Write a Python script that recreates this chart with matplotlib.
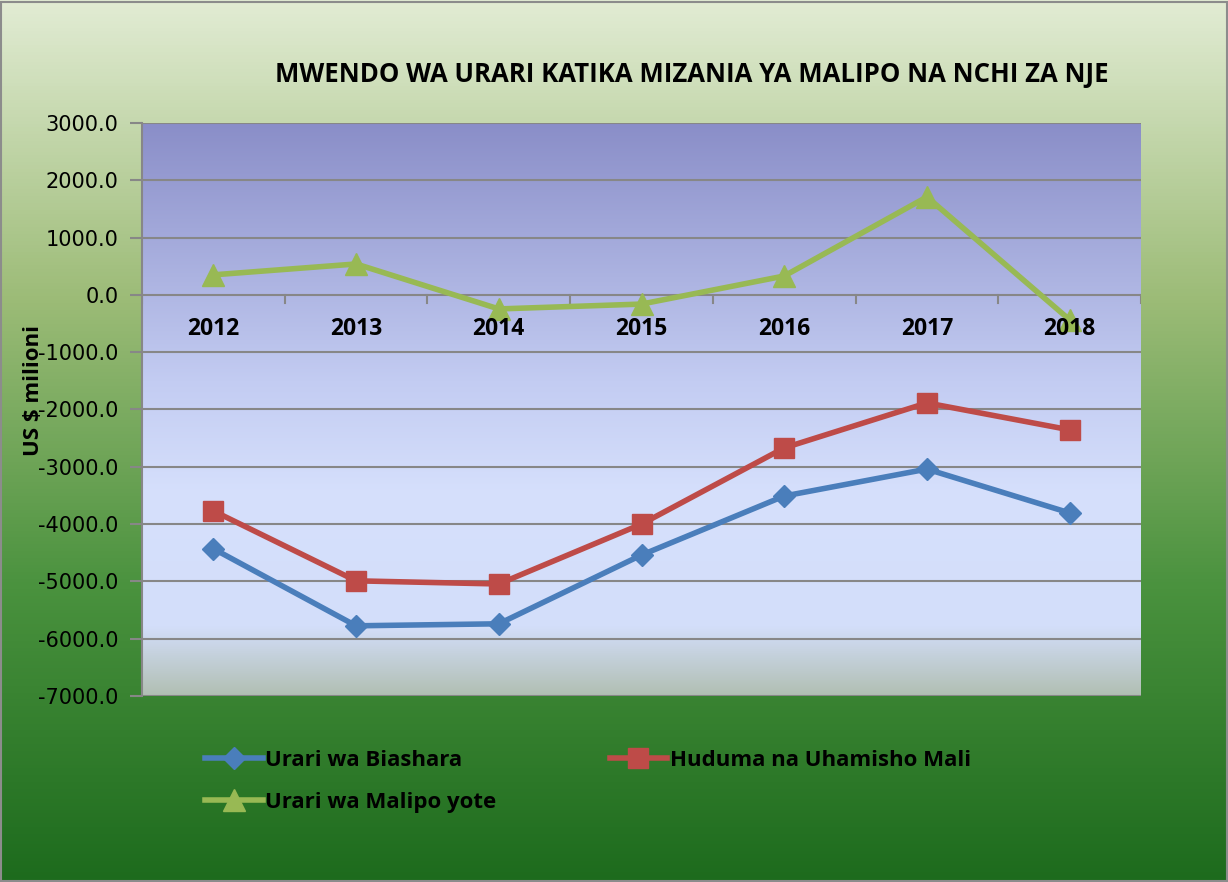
import numpy as np
import matplotlib
matplotlib.use('Agg')
import matplotlib.pyplot as plt
from matplotlib.colors import LinearSegmentedColormap

years = ['2012', '2013', '2014', '2015', '2016', '2017', '2018']
biashara = [-4430, -5775, -5740, -4540, -3510, -3040, -3805]
huduma = [-3770, -4990, -5045, -4000, -2670, -1885, -2355]
malipo = [350, 540, -245, -160, 330, 1710, -435]
yticks = list(range(-7000, 3001, 1000))

FONT = 'Open Sans'

fig = plt.figure(figsize=(12.28, 8.82), dpi=100)

# figure background gradient (light green top -> dark green bottom)
bg = fig.add_axes([0, 0, 1, 1], zorder=-10)
bg_cmap = LinearSegmentedColormap.from_list('bg', ['#e2ecd4', '#9dbc78', '#4a923e', '#1d6b1d'])
bg.imshow(np.linspace(0, 1, 256).reshape(-1, 1), cmap=bg_cmap, aspect='auto', extent=[0, 1, 0, 1])
bg.set_xlim(0, 1)
bg.set_ylim(0, 1)
bg.axis('off')
bg.add_patch(plt.Rectangle((0.001, 0.001), 0.998, 0.997, fill=False, ec='#8c8c8c', lw=1.5))

ax = fig.add_axes([142 / 1228, 1 - 696 / 882, 999 / 1228, 573 / 882])
x = np.arange(len(years))

pa_cmap = LinearSegmentedColormap.from_list(
    'pa', [(0, '#8a8ec8'), (0.45, '#c3ccf2'), (0.65, '#d6e0fc'), (0.88, '#d3defa'), (1, '#b1bfb3')])
ax.imshow(np.linspace(0, 1, 256).reshape(-1, 1), cmap=pa_cmap, aspect='auto',
          extent=[-0.5, len(years) - 0.5, -7000, 3000], origin='upper', zorder=0)

for v in yticks:
    ax.axhline(v, color='#878787', lw=1.5, zorder=1)

l1, = ax.plot(x, biashara, color='#4a7ebb', lw=4, marker='D', ms=11, zorder=3, label='Urari wa Biashara')
l2, = ax.plot(x, huduma, color='#be4b48', lw=4, marker='s', ms=14, zorder=3, label='Huduma na Uhamisho Mali')
l3, = ax.plot(x, malipo, color='#98b954', lw=4, marker='^', ms=16, zorder=3, label='Urari wa Malipo yote')

ax.set_xlim(-0.5, len(years) - 0.5)
ax.set_ylim(-7000, 3000)
ax.set_yticks(yticks)
ax.set_yticklabels([f'{v:.1f}' for v in yticks], fontsize=15, family='DejaVu Sans')
ax.tick_params(axis='y', length=9, width=1.5, color='#878787', pad=8)
ax.tick_params(axis='x', length=0)
ax.set_xticks([])

# category labels and ticks along the zero line
for i, yr in enumerate(years):
    ax.text(i, -600, yr, ha='center', va='center', fontsize=16.5, fontweight='bold',
            family=FONT, zorder=4)
for b in np.arange(-0.5, len(years)):
    ax.plot([b, b], [0, -150], color='#878787', lw=1.5, zorder=1)

for s in ['top', 'right', 'bottom']:
    ax.spines[s].set_visible(False)
ax.spines['left'].set_color('#878787')
ax.spines['left'].set_linewidth(1.5)

ax.set_ylabel('US $ milioni', fontsize=16, fontweight='bold', family=FONT)
ax.yaxis.set_label_coords(-0.098, 0.534)

fig.text(692 / 1228, 1 - 75 / 882, 'MWENDO WA URARI KATIKA MIZANIA YA MALIPO NA NCHI ZA NJE',
         ha='center', va='center', fontsize=18.5, fontweight='bold', family=FONT)

# column-major fill: col 1 = Biashara, Malipo; col 2 = Huduma
leg = fig.legend([l1, l3, l2], [l1.get_label(), l3.get_label(), l2.get_label()],
                 loc='upper left', bbox_to_anchor=(185 / 1228, 1 - 730 / 882), ncol=2,
                 frameon=False, handlelength=2.6, handletextpad=0.1, columnspacing=5.1,
                 labelspacing=0.95, prop={'family': FONT, 'weight': 'bold', 'size': 16})

fig.savefig('out.png', dpi=100)
